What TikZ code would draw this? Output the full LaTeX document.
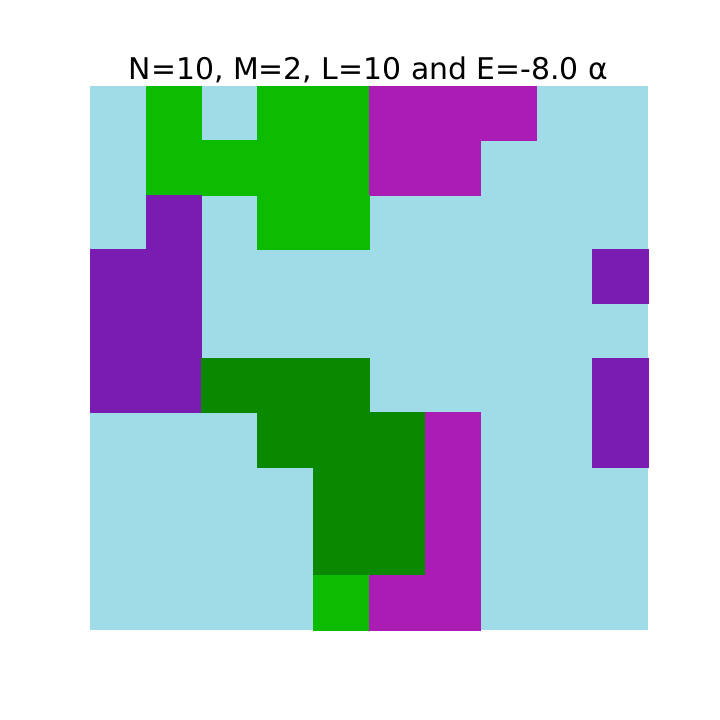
\documentclass[tikz,border=0pt]{standalone}
\usepackage{fontspec}
\setmainfont{DejaVu Sans}
\definecolor{cL}{RGB}{160,220,232}
\definecolor{cG}{RGB}{12,188,0}
\definecolor{cM}{RGB}{170,28,180}
\definecolor{cP}{RGB}{122,28,178}
\definecolor{cD}{RGB}{10,136,0}
\tikzset{cell/.style={fill=#1,draw=#1,line width=0.4pt}}
\begin{document}
\begin{tikzpicture}[x=0.72pt,y=-0.72pt]
\useasboundingbox[fill=white] (0,0) rectangle (720,720);
\fill[cL] (90,86) rectangle (648,630);
\foreach \r/\row in {
0/{L,G,L,G,G,M,M,M,L,L},
1/{L,G,G,G,G,M,M,L,L,L},
2/{L,P,L,G,G,L,L,L,L,L},
3/{P,P,L,L,L,L,L,L,L,P},
4/{P,P,L,L,L,L,L,L,L,L},
5/{P,P,D,D,D,L,L,L,L,P},
6/{L,L,L,D,D,D,M,L,L,P},
7/{L,L,L,L,D,D,M,L,L,L},
8/{L,L,L,L,D,D,M,L,L,L},
9/{L,L,L,L,G,M,M,L,L,L}}{
  \foreach \k [count=\i from 0] in \row {
    \if L\k\else
      \path[cell=c\k] ({90+55.8*\i},{86+54.4*\r}) rectangle ({90+55.8*(\i+1)},{86+54.4*(\r+1)});
    \fi
  }
}
\node[font=\fontsize{21.5}{26}\selectfont, anchor=base] (title) at (368.5,79.3) {N=10, M=2, L=10 and E=-8.0 α};
\end{tikzpicture}
\end{document}
